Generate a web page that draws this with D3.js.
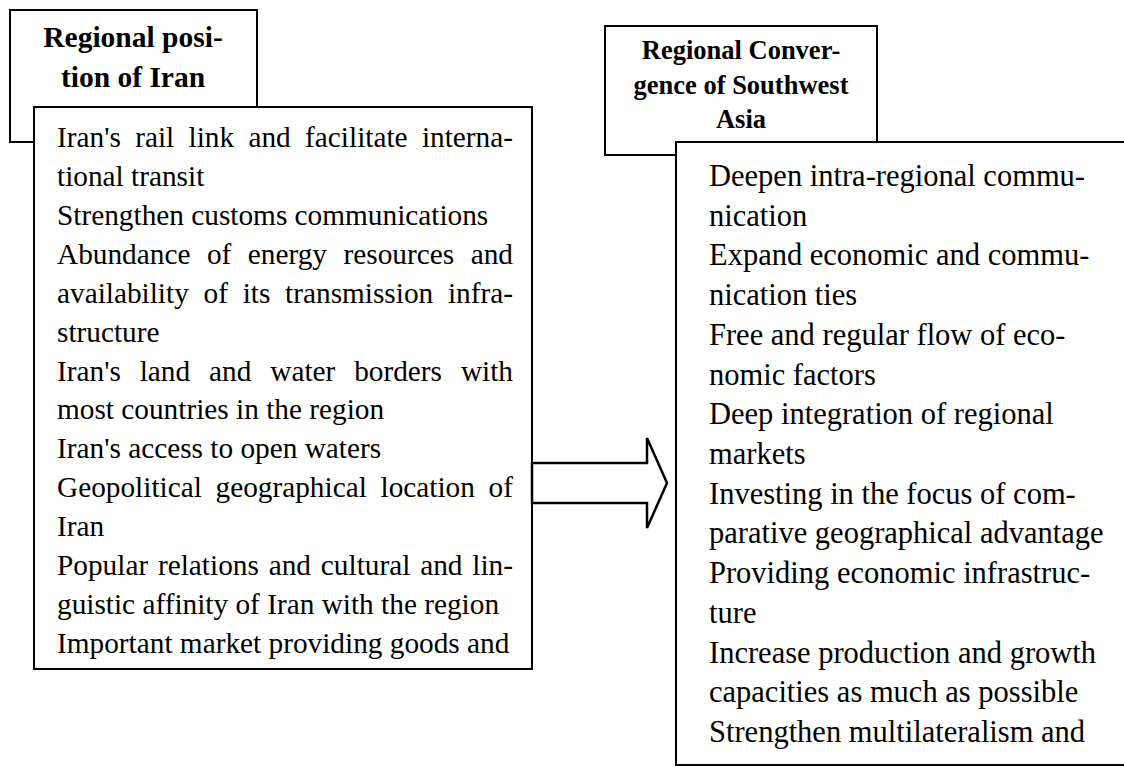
<!DOCTYPE html>
<html>
  <head>
    <title>Regional position of Iran</title>
    <style>
      body { margin: 0; background: #fff; }
      svg { display: block; }
      text { font-family: "Liberation Serif", "Times New Roman", serif; fill: #000; }
      .title { font-weight: bold; }
      rect, polygon { fill: #fff; stroke: #000; }
    </style>
  </head>

  <body>
    <div id="chart"></div>

    <script src="https://cdnjs.cloudflare.com/ajax/libs/d3/7.8.5/d3.min.js" type="text/javascript"></script>

<script>

  let leftTitle = ["Regional posi-", "tion of Iran"];
  let rightTitle = ["Regional Conver-", "gence of Southwest", "Asia"];

  // [text, justified]
  let leftLines = [
    ["Iran's rail link and facilitate interna-", true],
    ["tional transit", false],
    ["Strengthen customs communications", false],
    ["Abundance of energy resources and", true],
    ["availability of its transmission infra-", true],
    ["structure", false],
    ["Iran's land and water borders with", true],
    ["most countries in the region", false],
    ["Iran's access to open waters", false],
    ["Geopolitical geographical location of", true],
    ["Iran", false],
    ["Popular relations and cultural and lin-", true],
    ["guistic affinity of Iran with the region", false],
    ["Important market providing goods and", false]
  ];

  let rightLines = [
    "Deepen intra-regional commu-",
    "nication",
    "Expand economic and commu-",
    "nication ties",
    "Free and regular flow of eco-",
    "nomic factors",
    "Deep integration of regional",
    "markets",
    "Investing in the focus of com-",
    "parative geographical advantage",
    "Providing economic infrastruc-",
    "ture",
    "Increase production and growth",
    "capacities as much as possible",
    "Strengthen multilateralism and"
  ];

  var width = 1124, height = 766;

  var svg = d3.select('#chart')
    .append('svg')
    .attr("width", width)
    .attr("height", height);

  // boxes
  var leftHead = {x: 10, y: 10, w: 247, h: 132},
      leftBody = {x: 34, y: 107, w: 498, h: 562},
      rightHead = {x: 605, y: 26, w: 272, h: 129},
      rightBody = {x: 676, y: 142, w: 470, h: 623};

  function box(b, sw) {
    svg.append("rect")
      .attr("x", b.x).attr("y", b.y)
      .attr("width", b.w).attr("height", b.h)
      .style("stroke-width", sw);
  }

  box(leftHead, 2);
  box(leftBody, 2);
  box(rightHead, 2);
  box(rightBody, 2);

  // titles
  svg.append("g").selectAll("text")
    .data(leftTitle)
    .enter().append("text")
    .attr("class", "title")
    .attr("x", leftHead.x + 123)
    .attr("y", function(d, i) { return 47 + i * 40; })
    .attr("text-anchor", "middle")
    .style("font-size", "29.5px")
    .text(function(d) { return d; });

  svg.append("g").selectAll("text")
    .data(rightTitle)
    .enter().append("text")
    .attr("class", "title")
    .attr("x", rightHead.x + 136)
    .attr("y", function(d, i) { return 59 + i * 34.5; })
    .attr("text-anchor", "middle")
    .style("font-size", "26.5px")
    .text(function(d) { return d; });

  // body lines
  var yLeft = d3.scaleLinear()
    .domain([0, leftLines.length - 1])
    .range([147, 653]);

  var yRight = d3.scaleLinear()
    .domain([0, rightLines.length - 1])
    .range([186, 742]);

  var leftX0 = 57, leftX1 = 513;

  var lg = svg.append("g").style("font-size", "29.3px");

  leftLines.forEach(function(l, i) {
    if (!l[1]) {
      lg.append("text").attr("x", leftX0).attr("y", yLeft(i)).text(l[0]);
      return;
    }
    var words = l[0].split(" ");
    var nodes = words.map(function(w) {
      return lg.append("text").attr("y", yLeft(i)).text(w);
    });
    var widths = nodes.map(function(n) { return n.node().getComputedTextLength(); });
    var gap = (leftX1 - leftX0 - d3.sum(widths)) / (words.length - 1);
    var x = leftX0;
    nodes.forEach(function(n, j) {
      n.attr("x", x);
      x += widths[j] + gap;
    });
  });

  svg.append("g").style("font-size", "30.5px")
    .selectAll("text")
    .data(rightLines)
    .enter().append("text")
    .attr("x", 709)
    .attr("y", function(d, i) { return yRight(i); })
    .text(function(d) { return d; });

  // arrow
  var arrow = [[532, 463], [647, 463], [647, 438], [667, 483], [647, 528], [647, 503], [532, 503]];
  svg.append("polygon")
    .attr("points", arrow.map(function(p) { return p.join(","); }).join(" "))
    .style("stroke-width", 2.5);

</script>
  </body>
</html>
